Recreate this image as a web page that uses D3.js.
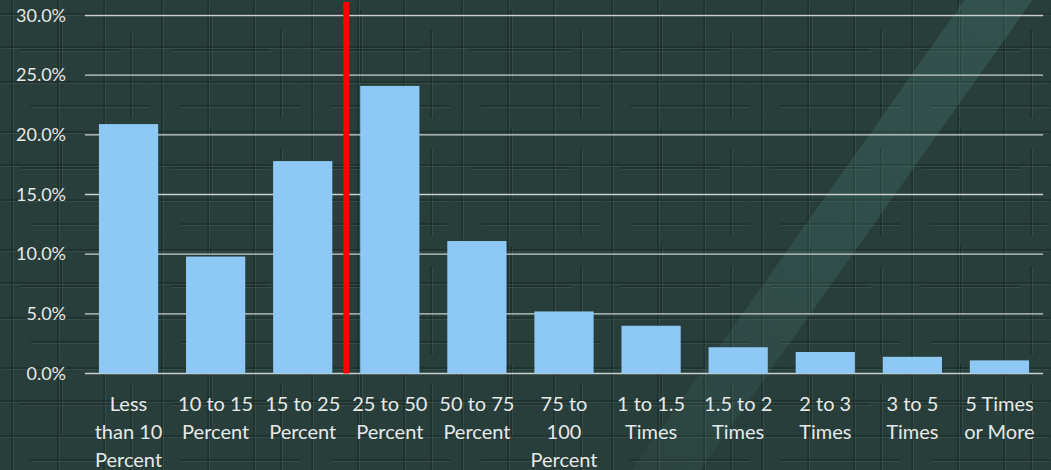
<!DOCTYPE html>
<html>
<head>
<meta charset="utf-8">
<script src="https://cdn.jsdelivr.net/npm/d3@7"></script>
<style>
  html, body { margin: 0; padding: 0; background: #283e3b; }
  svg { display: block; }
  text { font-family: Lato, "Noto Sans", sans-serif; }
</style>
</head>
<body>
<svg id="chart" width="1051" height="470"></svg>
<script>
// Categories (each label split into its display lines)
const categories = [
  "Less than 10 Percent", "10 to 15 Percent", "15 to 25 Percent",
  "25 to 50 Percent", "50 to 75 Percent", "75 to 100 Percent",
  "1 to 1.5 Times", "1.5 to 2 Times", "2 to 3 Times",
  "3 to 5 Times", "5 Times or More"
];
const labelLines = [
  ["Less", "than 10", "Percent"], ["10 to 15", "Percent"], ["15 to 25", "Percent"],
  ["25 to 50", "Percent"], ["50 to 75", "Percent"], ["75 to", "100", "Percent"],
  ["1 to 1.5", "Times"], ["1.5 to 2", "Times"], ["2 to 3", "Times"],
  ["3 to 5", "Times"], ["5 Times", "or More"]
];
// Share of observations per bucket
const shares = [0.209, 0.098, 0.178, 0.241, 0.111, 0.052, 0.040, 0.022, 0.018, 0.014, 0.011];
// Y axis ticks
const yTicks = [0, 0.05, 0.10, 0.15, 0.20, 0.25, 0.30];
// Divider drawn after this category
const dividerAfter = "15 to 25 Percent";

const W = 1051, H = 470;
const plotLeft = 85, plotRight = 1043, plotTop = 15.5, plotBase = 373.5;
const fontSize = 20, tickFontSize = 18;

const svg = d3.select("#chart");

// ---- textured backdrop ----
const defs = svg.append("defs");
const pat = defs.append("pattern")
  .attr("id", "weave").attr("patternUnits", "userSpaceOnUse")
  .attr("width", 150).attr("height", 118);
const strokes = [
  [12, 0, 12, 118], [58, 0, 58, 118], [61, 10, 61, 80], [104, 0, 104, 118], [131, 30, 131, 118],
  [0, 14, 150, 14], [0, 47, 150, 47], [20, 50, 120, 50], [0, 82, 150, 82], [30, 106, 150, 106]
];
strokes.forEach(s => {
  pat.append("line").attr("x1", s[0]).attr("y1", s[1]).attr("x2", s[2]).attr("y2", s[3])
    .attr("stroke", "#0f1c1a").attr("stroke-opacity", 0.45).attr("stroke-width", 1.6);
  pat.append("line").attr("x1", s[0] + 1.5).attr("y1", s[1] + 1.5).attr("x2", s[2] + 1.5).attr("y2", s[3] + 1.5)
    .attr("stroke", "#6f8f8a").attr("stroke-opacity", 0.18).attr("stroke-width", 1);
});

// band fades toward its lower end
const grad = defs.append("linearGradient").attr("id", "bandFade")
  .attr("gradientUnits", "userSpaceOnUse")
  .attr("x1", 1000).attr("y1", 0).attr("x2", 660).attr("y2", 470);
grad.append("stop").attr("offset", 0).attr("stop-color", "#4f8a80").attr("stop-opacity", 0.26);
grad.append("stop").attr("offset", 0.6).attr("stop-color", "#4f8a80").attr("stop-opacity", 0.2);
grad.append("stop").attr("offset", 1).attr("stop-color", "#4f8a80").attr("stop-opacity", 0.08);

svg.append("rect").attr("width", W).attr("height", H).attr("fill", "#283e3b");
svg.append("rect").attr("width", W).attr("height", H).attr("fill", "url(#weave)");

// lighter diagonal band across the right side
svg.append("polygon")
  .attr("points", [[968, -5], [1036, -5], [700, 470], [632, 470]].map(p => p.join(",")).join(" "))
  .attr("fill", "url(#bandFade)");

// ---- scales ----
const x = d3.scaleBand().domain(categories).range([plotLeft, plotRight])
  .paddingInner(0.32).paddingOuter(0.16);
const y = d3.scaleLinear().domain([0, 0.30]).range([plotBase, plotTop]);

// gridlines
svg.append("g").selectAll("line").data(yTicks).join("line")
  .attr("x1", plotLeft).attr("x2", plotRight)
  .attr("y1", d => y(d)).attr("y2", d => y(d))
  .attr("stroke", "#c9cfcd").attr("stroke-width", 1.4);

// y axis labels
const yAxis = d3.axisLeft(y).tickValues(yTicks).tickFormat(d3.format(".1%")).tickSize(0).tickPadding(0);
const ya = svg.append("g").attr("transform", "translate(66,0)").call(yAxis);
ya.select(".domain").remove();
ya.selectAll("text").attr("fill", "#e6e9e8").attr("font-size", tickFontSize)
  .style("font-family", "Lato, 'Noto Sans', sans-serif");

// bars
svg.append("g").selectAll("rect").data(categories).join("rect")
  .attr("x", d => x(d)).attr("width", x.bandwidth())
  .attr("y", (d, i) => y(shares[i])).attr("height", (d, i) => y(0) - y(shares[i]))
  .attr("fill", "#8ec8f5");

// x labels
const xl = svg.append("g");
categories.forEach((c, i) => {
  const cx = x(c) + x.bandwidth() / 2;
  const t = xl.append("text")
    .attr("x", cx).attr("y", 411)
    .attr("text-anchor", "middle").attr("fill", "#e6e9e8").attr("font-size", fontSize);
  labelLines[i].forEach((ln, k) => {
    t.append("tspan").attr("x", cx).attr("dy", k === 0 ? 0 : 28).text(ln);
  });
});

// red divider between buckets
const idx = categories.indexOf(dividerAfter);
const divX = x(categories[idx + 1]) - x.step() * x.paddingInner() / 2;
svg.append("line")
  .attr("x1", divX).attr("x2", divX).attr("y1", 2).attr("y2", y(0))
  .attr("stroke", "#ff0000").attr("stroke-width", 6);
</script>
</body>
</html>
